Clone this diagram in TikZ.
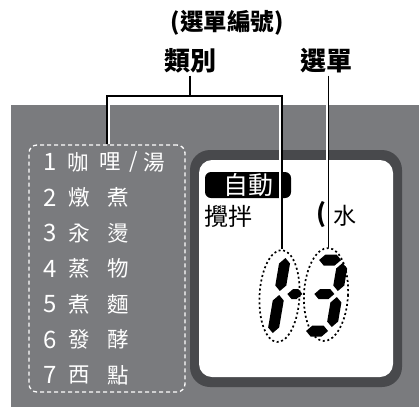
\documentclass[tikz,border=0pt]{standalone}
\usepackage{fontspec}
\newfontfamily\cjk{Noto Sans CJK TC}
\usetikzlibrary{shapes.geometric}
\definecolor{bggray}{RGB}{122,123,126}
\definecolor{framegray}{RGB}{72,73,76}
\newcommand{\hsegm}[4]{%
  \fill (#1,#3) -- ({#1+#4/2},{#3-#4/2}) -- ({#2-#4/2},{#3-#4/2}) -- (#2,#3) -- ({#2-#4/2},{#3+#4/2}) -- ({#1+#4/2},{#3+#4/2}) -- cycle;}
\newcommand{\vsegm}[4]{%
  \fill (#1,#2) -- ({#1+#4/2},{#2+#4/2}) -- ({#1+#4/2},{#3-#4/2}) -- (#1,#3) -- ({#1-#4/2},{#3-#4/2}) -- ({#1-#4/2},{#2+#4/2}) -- cycle;}
\begin{document}
\begin{tikzpicture}[x=1pt,y=-1pt,
  lbl/.style={font=\cjk\bfseries\fontsize{26}{26}\selectfont, inner sep=2pt},
  itemc/.style={font=\cjk\fontsize{21.5}{21.5}\selectfont, text=white, inner sep=0pt},
  num/.style={font=\cjk\fontsize{24}{24}\selectfont, text=white, inner sep=0pt},
  lead/.style={line width=1.6pt, black},
  halo/.style={line width=2pt, white},
  dotell/.style={ellipse, draw=black, line width=1.7pt, dash pattern=on 2pt off 2.6pt, inner sep=0pt},
  lcdtxt/.style={font=\cjk\fontsize{24}{24}\selectfont, inner sep=0pt}]
\useasboundingbox (0,0) rectangle (419,407);
\fill[bggray] (11,105) rectangle (419,407);
% dashed list box
\node[draw=white, line width=1.3pt, dash pattern=on 4pt off 3pt, rounded corners=8pt,
      minimum width=156pt, minimum height=247pt, inner sep=0pt] (dbox) at (107,268.5) {};
% list
\node[num] (n1) at (50,162) {1};
\node[itemc] (r1a) at (78,162) {咖};
\node[itemc] (r1b) at (110,162) {哩};
\node[itemc] (r1c) at (134,162) {/};
\node[itemc] (r1d) at (154,162) {湯};
\foreach \i/\y/\a/\b in {2/197.5/燉/煮, 3/233/汆/燙, 4/268.5/蒸/物, 5/304/煮/麵, 6/339.5/發/酵, 7/375/西/點}{
  \node[num] (n\i) at (50,\y) {\i};
  \node[itemc] (ra\i) at (79,\y) {\a};
  \node[itemc] (rb\i) at (118,\y) {\b};
}
% LCD
\node[fill=framegray, rounded corners=20pt, minimum width=212pt, minimum height=237pt, inner sep=0pt] (lcd) at (296,268.5) {};
\node[fill=white, rounded corners=13pt, minimum width=194pt, minimum height=217pt, inner sep=0pt] (screen) at (lcd.center) {};
\node[fill=black, rounded corners=6pt, minimum width=86pt, minimum height=26pt, lcdtxt, font=\cjk\fontsize{25}{25}\selectfont, text=white] (auto) at (248,185) {自動};
\node[lcdtxt] (stir) at (228,216) {攪拌};
\node[lcdtxt, font=\cjk\bfseries\fontsize{25}{25}\selectfont] (paren) at (321,215) {(};
\node[lcdtxt, font=\cjk\fontsize{23}{23}\selectfont] (water) at (345,216) {水};
% seven-segment digits
\begin{scope}[shift={(281,296)}, xslant=0.17]
  \vsegm{-2}{-38}{-5}{11}
  \vsegm{-2}{-1}{37}{11}
  \hsegm{6}{21}{-2}{10}
\end{scope}
\begin{scope}[shift={(325,296)}, xslant=0.17]
  \hsegm{-12}{10}{-36}{11}
  \vsegm{12}{-33}{-5}{11}
  \hsegm{-11}{9}{-2}{10}
  \vsegm{12}{1}{31}{11}
  \hsegm{-13}{9}{35}{11}
\end{scope}
\node[dotell, minimum width=40pt, minimum height=92pt, rotate=-3] (e1) at (279.5,296) {};
\node[dotell, minimum width=44pt, minimum height=93pt, rotate=-3] (e2) at (326,294.5) {};
% labels
\node[lbl, font=\cjk\bfseries\fontsize{23.5}{23.5}\selectfont] (title) at (227,23) {(選單編號)};
\node[lbl] (cat) at (190,61) {類別};
\node[lbl] (menu) at (326,61) {選單};
% leader lines
\coordinate (brM) at (190,96);
\coordinate (brL) at (dbox.north |- brM);
\coordinate (brR) at (e1.north |- brM);
\draw[halo, transform canvas={xshift=1.9pt}] (dbox.north) -- (brL);
\draw[halo, transform canvas={xshift=-1.9pt}] (brR) -- (e1.north);
\draw[halo, transform canvas={xshift=-1.9pt}] (menu.south -| e2.north) -- (e2.north);
\draw[lead] (cat.south) -- (brM);
\draw[lead] (dbox.north) -- (brL) -- (brR) -- (e1.north);
\draw[lead] (menu.south -| e2.north) -- (e2.north);
\end{tikzpicture}
\end{document}
